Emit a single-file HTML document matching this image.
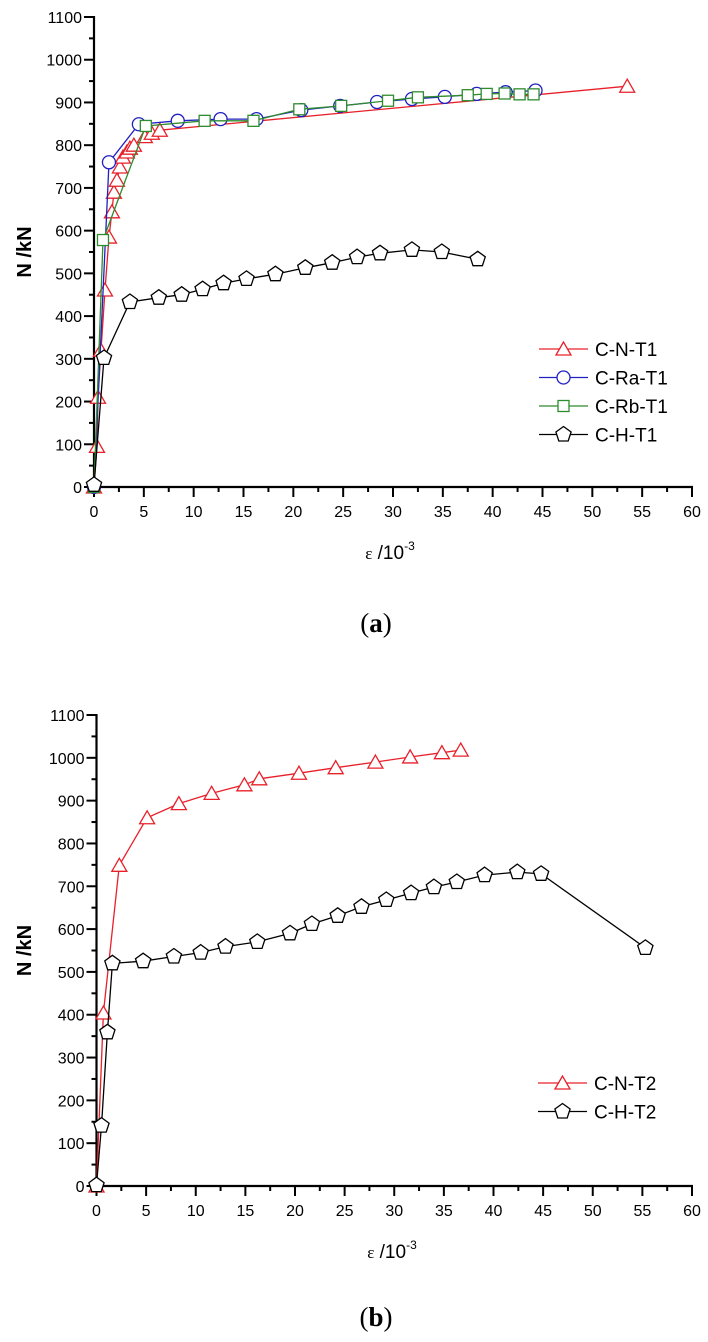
<!DOCTYPE html>
<html><head><meta charset="utf-8"><style>
html,body{margin:0;padding:0;background:#fff;}
svg{display:block;font-family:"Liberation Sans",Arial,sans-serif;}
</style></head><body>
<svg id="fig" width="708" height="1342" viewBox="0 0 708 1342" xmlns="http://www.w3.org/2000/svg">
<g id="chartA"></g>
<g id="chartB"></g>
</svg>
<script>
const NS="http://www.w3.org/2000/svg";
const xTicks=[0,5,10,15,20,25,30,35,40,45,50,55,60];
const yTicks=[0,100,200,300,400,500,600,700,800,900,1000,1100];
// Chart (a)
const cnT1_x=[0,0.3,0.4,0.7,1.1,1.5,1.8,2.0,2.3,2.6,2.9,3.3,3.6,4.0,5.1,5.8,6.6,53.5];
const cnT1_y=[0,95,210,320,461,585,644,690,718,749,772,784,793,800,820,828,835,938];
const craT1_x=[0,1.5,4.5,8.4,12.7,16.3,20.8,24.7,28.4,31.9,35.2,38.4,41.3,44.3];
const craT1_y=[0,760,849,857,861,861,882,892,901,908,913,920,924,928];
const crbT1_x=[0,0.9,5.2,11.1,16.0,20.6,24.8,29.5,32.5,37.5,39.4,41.2,42.7,44.1];
const crbT1_y=[0,578,845,857,857,884,892,904,912,917,920,921,919,919];
const chT1_x=[0,1.0,3.6,6.5,8.8,10.9,13.0,15.3,18.2,21.2,23.9,26.4,28.7,31.9,34.9,38.5];
const chT1_y=[5,302,433,443,450,463,477,487,498,513,525,538,547,555,550,533];
// Chart (b)
const cnT2_x=[0,0.7,2.3,5.1,8.3,11.6,14.9,16.4,20.4,24.1,28.1,31.6,34.8,36.7];
const cnT2_y=[0,404,749,860,893,917,937,951,964,977,990,1002,1012,1018];
const chT2_x=[0,0.5,1.1,1.6,4.7,7.8,10.5,13.0,16.2,19.5,21.7,24.3,26.7,29.2,31.7,34.0,36.3,39.1,42.4,44.8,55.3];
const chT2_y=[2,141,359,520,525,536,545,559,570,590,612,631,652,668,684,698,710,726,733,729,556];

function el(tag,attrs,parent){const e=document.createElementNS(NS,tag);for(const k in attrs)e.setAttribute(k,attrs[k]);parent.appendChild(e);return e;}

function marker(type,cx,cy,color,g){
  let m;
  if(type==='tri'){m=el('polygon',{points:`${cx},${cy-7} ${cx-7.5},${cy+6} ${cx+7.5},${cy+6}`,fill:'#fff',stroke:color,'stroke-width':1.3},g);}
  else if(type==='circ'){m=el('circle',{cx:cx,cy:cy,r:6.5,fill:'#fff',stroke:color,'stroke-width':1.3},g);}
  else if(type==='sq'){m=el('rect',{x:cx-5.5,y:cy-5.5,width:11,height:11,fill:'#fff',stroke:color,'stroke-width':1.3},g);}
  else {let p=[];for(let i=0;i<5;i++){const a=-Math.PI/2+i*2*Math.PI/5;p.push((cx+8*Math.cos(a)).toFixed(1)+','+(cy+8*Math.sin(a)).toFixed(1));}
    m=el('polygon',{points:p.join(' '),fill:'#fff',stroke:color,'stroke-width':1.3},g);}
  return m;
}

function drawChart(g,cfg){
  const sx=v=>cfg.x0+(cfg.x60-cfg.x0)*v/60;
  const sy=v=>cfg.y0-(cfg.y0-cfg.y1100)*v/1100;
  const ax=el('g',{},g);
  
  
  el('line',{x1:cfg.x0,y1:sy(1100)-1,x2:cfg.x0,y2:cfg.y0+1,stroke:'#000','stroke-width':2.2},ax);
  el('line',{x1:cfg.x0-1,y1:cfg.y0,x2:sx(60)+1,y2:cfg.y0,stroke:'#000','stroke-width':2.2},ax);
  for(let i=0;i<xTicks.length;i++){
    const x=sx(xTicks[i]);
    el('line',{x1:x,y1:cfg.y0,x2:x,y2:cfg.y0+10,stroke:'#000','stroke-width':2},ax);
    if(i<xTicks.length-1){const xm=sx(xTicks[i]+2.5);el('line',{x1:xm,y1:cfg.y0,x2:xm,y2:cfg.y0+5,stroke:'#000','stroke-width':2},ax);}
    const t=el('text',{x:x,y:cfg.y0+30,'text-anchor':'middle','font-size':16},ax);t.textContent=xTicks[i];
    
    
  }
  for(let i=0;i<yTicks.length;i++){
    const y=sy(yTicks[i]);
    el('line',{x1:cfg.x0-10,y1:y,x2:cfg.x0,y2:y,stroke:'#000','stroke-width':2},ax);
    if(i<yTicks.length-1){const ym=sy(yTicks[i]+50);el('line',{x1:cfg.x0-5,y1:ym,x2:cfg.x0,y2:ym,stroke:'#000','stroke-width':2},ax);}
    const t=el('text',{x:cfg.x0-12,y:y+6,'text-anchor':'end','font-size':16},ax);t.textContent=yTicks[i];
    
    
  }
  const yt=el('text',{x:0,y:0,'text-anchor':'middle','font-size':20,'font-weight':'bold',transform:`translate(31,${(cfg.y0+sy(1100))/2}) rotate(-90)`},g);
  yt.textContent='N /kN';
  
  
  const xt=el('text',{x:cfg.xtX,y:cfg.y0+72,'text-anchor':'middle','font-size':19},g);
  xt.innerHTML='<tspan font-family="Liberation Serif" font-size="17">ε</tspan> /10<tspan dy="-9" font-size="12">-3</tspan>';
  
  
  const pl=el('text',{x:376,y:cfg.y0+cfg.panelDy,'font-size':27,'font-family':'Liberation Serif, serif','text-anchor':'middle'},g);
  pl.innerHTML='(<tspan font-weight="bold">'+cfg.panel+'</tspan>)';
  
  
  cfg.series.forEach((s,k)=>{
    const sg=el('g',{},g);
    
    
    const pts=s.xs.map((v,i)=>sx(v).toFixed(1)+','+sy(s.ys[i]).toFixed(1)).join(' ');
    el('polyline',{points:pts,fill:'none',stroke:s.color,'stroke-width':1.3},sg);
    s.xs.forEach((v,i)=>{const m=marker(s.m,sx(v),sy(s.ys[i]),s.color,sg);
      
      });
    const ly=cfg.legY+k*28.5;
    const lg=el('g',{},g);
    
    
    el('line',{x1:cfg.legX,y1:ly,x2:cfg.legX+49,y2:ly,stroke:s.color,'stroke-width':1.3},lg);
    marker(s.m,cfg.legX+24.5,ly,s.color,lg);
    const lt=el('text',{x:cfg.legX+56,y:ly+7,'font-size':19},lg);lt.textContent=s.name;
  });
}
drawChart(document.getElementById('chartA'),{x0:94,x60:692,y0:487,y1100:17,xtX:390,panel:'a',panelDy:145,legX:539,legY:349,
  series:[{name:'C-N-T1',xs:cnT1_x,ys:cnT1_y,color:'#e8202a',m:'tri'},
          {name:'C-Ra-T1',xs:craT1_x,ys:craT1_y,color:'#2020c0',m:'circ'},
          {name:'C-Rb-T1',xs:crbT1_x,ys:crbT1_y,color:'#2e8b2e',m:'sq'},
          {name:'C-H-T1',xs:chT1_x,ys:chT1_y,color:'#000',m:'pent'}]});
drawChart(document.getElementById('chartB'),{x0:96.5,x60:692,y0:1186,y1100:715,xtX:392,panel:'b',panelDy:140,legX:538,legY:1083,
  series:[{name:'C-N-T2',xs:cnT2_x,ys:cnT2_y,color:'#e8202a',m:'tri'},
          {name:'C-H-T2',xs:chT2_x,ys:chT2_y,color:'#000',m:'pent'}]});
</script>
</body></html>
